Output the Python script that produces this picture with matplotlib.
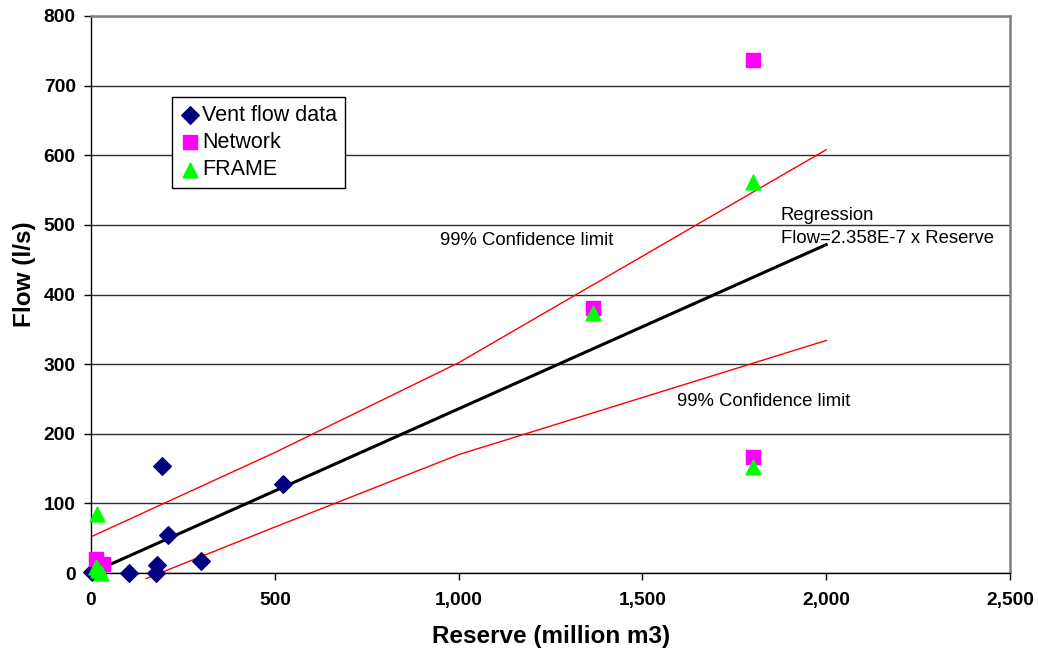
import matplotlib
matplotlib.use("Agg")
import matplotlib.pyplot as plt
from matplotlib.ticker import FuncFormatter, MultipleLocator

plt.rcParams['font.family'] = ['Liberation Sans', 'DejaVu Sans']

# Measured vent flows
vent_reserve = [3, 103, 176, 180, 194, 210, 300, 521]
vent_flow = [1, 0, 0, 12, 153, 55, 17, 128]

# Network model predictions
net_reserve = [14, 33, 1366, 1800, 1800]
net_flow = [20, 13, 381, 737, 167]

# FRAME model predictions
frame_reserve = [16, 14, 20, 26, 1366, 1800, 1800]
frame_flow = [85, 8, 5, 0, 373, 562, 152]

# Regression through origin: Flow = 2.358E-7 x Reserve (reserve in m3)
reg_slope = 2.358e-7 * 1e6
reg_reserve = [0, 2000]

# 99% confidence limits
upper_reserve = [0, 500, 1000, 1500, 2000]
upper_flow = [52, 173, 302, 455, 608]
lower_reserve = [150, 500, 1000, 2000]
lower_flow = [-8, 66, 170, 334]

fig = plt.figure(figsize=(10.38, 6.56), dpi=100)
ax = fig.add_axes([91 / 1038, 1 - 573 / 656, (1010 - 91) / 1038, (573 - 16) / 656])

ax.set_xlim(0, 2500)
ax.set_ylim(0, 800)
ax.xaxis.set_major_locator(MultipleLocator(500))
ax.yaxis.set_major_locator(MultipleLocator(100))
ax.xaxis.set_major_formatter(FuncFormatter(lambda v, p: f"{v:,.0f}"))
ax.grid(axis='y', color='#303030', linewidth=1.0)
ax.set_axisbelow(True)

for side in ('top', 'right'):
    ax.spines[side].set_color('#808080')
    ax.spines[side].set_linewidth(1.8)
for side in ('left', 'bottom'):
    ax.spines[side].set_color('black')
    ax.spines[side].set_linewidth(1.0)

ax.tick_params(axis='both', direction='out', length=5, width=1, labelsize=13.8)
ax.tick_params(axis='y', pad=6)
ax.tick_params(axis='x', pad=9)
for lab in ax.get_xticklabels() + ax.get_yticklabels():
    lab.set_fontweight('bold')

ax.plot(upper_reserve, upper_flow, color='red', linewidth=1.0, zorder=2)
ax.plot(lower_reserve, lower_flow, color='red', linewidth=1.0, zorder=2, clip_on=False)
ax.plot(reg_reserve, [reg_slope * r for r in reg_reserve], color='black', linewidth=2.2, zorder=3)

ax.scatter(vent_reserve, vent_flow, marker='D', s=80, color='#000080', zorder=4,
           label='Vent flow data', clip_on=False)
ax.scatter(net_reserve, net_flow, marker='s', s=105, color='#FF00FF', zorder=5,
           label='Network', clip_on=False)
ax.scatter(frame_reserve, frame_flow, marker='^', s=115, color='#00FF00', zorder=6,
           label='FRAME', clip_on=False)

ax.text(950, 478, '99% Confidence limit', fontsize=13.3, va='center')
ax.text(1595, 247, '99% Confidence limit', fontsize=13.3, va='center')
ax.text(1877, 514, 'Regression', fontsize=13.3, va='center')
ax.text(1877, 481, 'Flow=2.358E-7 x Reserve', fontsize=13.3, va='center')

ax.set_xlabel('Reserve (million m3)', fontsize=17.5, fontweight='bold')
ax.set_ylabel('Flow (l/s)', fontsize=17.5, fontweight='bold')
ax.xaxis.set_label_coords((551.5 - 91) / 919, (573 - 636) / 557)
ax.xaxis.label.set_va('center')
ax.yaxis.set_label_coords((24 - 91) / 919, (573 - 274) / 557)
ax.yaxis.label.set_va('center')

leg = ax.legend(loc='upper left', bbox_to_anchor=((172 - 91) / 919, (573 - 97) / 557),
                fontsize=15.5, frameon=True, fancybox=False, framealpha=1,
                edgecolor='black', handletextpad=0.05, handlelength=1.0,
                borderpad=0.35, labelspacing=0.3, borderaxespad=0, scatterpoints=1)
leg.get_frame().set_linewidth(1.0)

fig.savefig('out.png', dpi=100)
